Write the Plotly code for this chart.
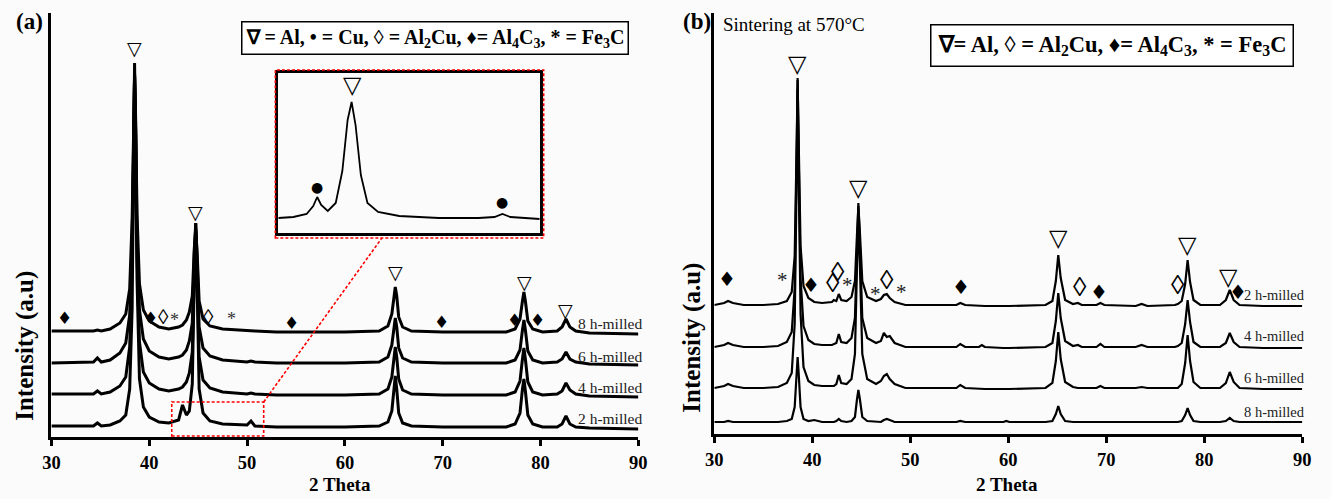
import plotly.graph_objects as go

W, H = 1331, 499

# ---------------- Panel (a): as-milled powders (2-theta grid and intensities above each baseline)
X_A = [30, 33, 34.3, 34.7, 35.1, 36, 37, 37.6, 38.0, 38.25, 38.4, 38.5, 38.6, 38.75, 39.0, 39.4,
       40, 41, 42, 43.0, 43.4, 43.8, 44.1, 44.4, 44.6, 44.75, 44.9, 45.1, 45.5, 46.2, 47.5, 50,
       50.4, 50.8, 53, 60, 63.5, 64.4, 64.8, 65.0, 65.15, 65.3, 65.5, 65.9, 66.8, 70, 76.5, 77.4,
       77.9, 78.15, 78.3, 78.45, 78.7, 79.2, 80.2, 81.7, 82.2, 82.6, 83.0, 83.6, 85, 90]
A_2H = [3, 3, 3, 6, 3, 4, 8, 14, 40, 120, 290, 366, 300, 150, 50, 22,
        12, 7, 6, 9, 24, 14, 18, 45, 150, 206, 140, 40, 16, 8, 5, 4,
        8, 3, 2, 2, 3, 7, 18, 42, 53, 40, 16, 6, 3, 2, 2, 5,
        16, 40, 50, 38, 14, 5, 2, 2, 5, 13, 5, 2, 1, 0]
A_4H = [3, 3, 3, 6, 3, 5, 11, 20, 50, 130, 260, 320, 270, 140, 55, 25,
        14, 8, 6, 8, 10, 15, 24, 45, 120, 166, 120, 40, 17, 9, 5, 3,
        4, 3, 2, 2, 3, 8, 20, 40, 50, 40, 18, 7, 3, 2, 2, 5,
        16, 38, 49, 38, 15, 5, 2, 3, 6, 14, 7, 3, 1, 0]
A_6H = [2, 3, 3, 7, 3, 5, 12, 22, 50, 125, 240, 290, 245, 130, 55, 26,
        14, 8, 6, 8, 10, 15, 24, 42, 110, 142, 105, 38, 17, 9, 5, 3,
        4, 3, 2, 2, 3, 8, 20, 38, 47, 38, 17, 7, 3, 2, 2, 5,
        15, 35, 45, 35, 14, 5, 2, 3, 6, 13, 6, 3, 1, 0]
A_8H = [3, 3, 3, 4, 3, 5, 11, 20, 45, 115, 215, 260, 220, 120, 50, 24,
        13, 7, 5, 7, 9, 14, 22, 38, 85, 105, 80, 33, 15, 8, 5, 3,
        3, 3, 2, 2, 3, 8, 20, 38, 47, 38, 17, 7, 3, 2, 2, 5,
        15, 33, 42, 33, 13, 5, 2, 3, 7, 15, 7, 3, 1, 0]
LABELS = ["2 h-milled", "4 h-milled", "6 h-milled", "8 h-milled"]
OFFSET_A = [17, 49, 81, 112]

# inset of panel (a): 2 h-milled, 42-52 degrees
X_IN = [41.93, 42.5, 43.0, 43.25, 43.4, 43.55, 43.8, 44.1, 44.35, 44.55, 44.7, 44.85, 45.05,
        45.3, 45.7, 46.5, 48, 49.5, 50.1, 50.4, 50.7, 51.81]
Y_IN = [15, 16, 19, 27, 36, 28, 22, 30, 62, 113, 131, 108, 58, 30, 21, 17, 15, 15, 16, 19, 16, 14]

# phase marks panel (a)
SYM_A_X = [38.5, 44.75, 65.2, 78.4, 82.6, 31.3, 40.1, 41.5, 42.6, 46.1, 48.4, 54.5, 69.9, 77.3, 79.7]
SYM_A_Y = [398, 234, 174, 164, 136, 128, 128, 129, 126, 129, 127, 123, 124, 126, 126]
SYM_A_T = ["▽", "▽", "▽", "▽", "▽", "♦", "♦", "◊", "*", "◊", "*", "♦", "♦", "♦", "♦"]

# ---------------- Panel (b): sintered at 570 C
X_B = [30, 31.0, 31.4, 31.9, 33, 35, 36.5, 37.4, 37.9, 38.2, 38.4, 38.5, 38.6, 38.8, 39.1, 39.6,
       40.2, 41, 42.0, 42.2, 42.45, 42.7, 42.95, 43.5, 44.0, 44.35, 44.55, 44.7, 44.85, 45.1, 45.6,
       46.5, 47.0, 47.3, 47.6, 47.9, 48.4, 49.5, 54.7, 55.1, 55.6, 57.0, 57.3, 57.6, 59.5, 59.8,
       60.1, 63.8, 64.5, 64.85, 65.1, 65.35, 65.8, 66.6, 67.1, 67.5, 69.0, 69.4, 69.8, 73.0, 73.6,
       74.2, 77.0, 77.3, 77.7, 78.05, 78.3, 78.55, 78.9, 79.6, 81.6, 82.2, 82.6, 83.0, 83.6, 86, 90]
B_2H = [1, 3, 5, 3, 1, 1, 2, 5, 14, 50, 160, 226, 170, 60, 20, 8,
        4, 3, 4, 6, 5, 12, 6, 5, 9, 25, 70, 100, 75, 25, 9,
        5, 7, 11, 12, 8, 4, 1, 1, 3, 1, 0, 0, 0, 0, 0,
        0, 1, 5, 25, 51, 28, 6, 2, 3, 1, 1, 3, 1, 0, 2,
        0, 1, 2, 5, 22, 46, 24, 6, 1, 1, 6, 16, 6, 1, 0, 0]
B_4H = [1, 3, 5, 3, 1, 1, 2, 6, 16, 60, 190, 270, 200, 70, 22, 8,
        4, 3, 3, 4, 5, 14, 6, 5, 10, 30, 100, 145, 105, 30, 10,
        5, 7, 15, 11, 12, 5, 1, 1, 4, 1, 1, 3, 1, 0, 0,
        0, 1, 5, 27, 55, 30, 7, 2, 3, 1, 1, 4, 1, 1, 3,
        1, 1, 2, 5, 24, 48, 26, 6, 1, 1, 5, 15, 6, 1, 0, 0]
B_6H = [1, 3, 5, 3, 1, 1, 2, 6, 16, 65, 210, 300, 220, 75, 22, 8,
        4, 3, 3, 3, 5, 14, 6, 5, 10, 35, 120, 175, 125, 35, 10,
        5, 8, 13, 15, 10, 5, 1, 1, 4, 1, 0, 0, 0, 0, 0,
        0, 1, 6, 28, 57, 30, 7, 2, 1, 1, 1, 3, 1, 1, 2,
        1, 1, 1, 5, 26, 54, 28, 7, 1, 1, 6, 17, 7, 1, 0, 0]
B_8H = [0, 0, 1, 0, 0, 0, 0, 1, 3, 15, 48, 65, 50, 15, 3, 1,
        2, 0, 0, 0, 1, 3, 1, 0, 1, 5, 22, 32, 23, 5, 1,
        0, 0, 2, 3, 2, 0, 0, 0, 1, 0, 0, 0, 0, 0, 1,
        0, 0, 1, 8, 16, 8, 1, 0, 0, 0, 0, 0, 0, 0, 0,
        0, 0, 0, 1, 7, 14, 7, 1, 0, 0, 1, 4, 1, 0, 0, 0]
OFFSET_B = [137, 95, 54, 21]

SYM_B_X = [38.5, 44.7, 65.1, 78.3, 82.5, 31.3, 37.0, 39.9, 42.1, 42.6, 43.6, 46.4, 47.6, 49.1,
           55.2, 67.3, 69.3, 77.3, 83.4]
SYM_B_Y = [379, 255, 205, 198, 166, 164, 163, 158, 160, 171, 158, 149, 163, 151, 156, 156, 151, 158, 151]
SYM_B_T = ["▽", "▽", "▽", "▽", "▽", "♦", "*", "♦", "◊", "◊", "*", "*", "◊", "*",
           "♦", "◊", "♦", "◊", "♦"]

SERIF = "Liberation Serif, Times New Roman, serif"

# ---------------- geometry (pixels -> paper)
def px(x):
    return x / W

def py(y):
    return 1 - y / H

AX_A = (43, 638)
AX_B = (715, 1311)
# (top pixel, bottom pixel) of the plot areas; y values are in pixel units above a reference line
Y_A = (13, 437)
Y_B = (13, 434)
YR_A = [9, 433]
YR_B = [9, 430]
IN_X = (273, 538)
IN_Y = (73, 233)

fig = go.Figure()

for vals, off in zip([A_2H, A_4H, A_6H, A_8H], OFFSET_A):
    fig.add_trace(go.Scatter(x=X_A, y=[v + off for v in vals], mode="lines",
                             line=dict(color="black", width=3.0), xaxis="x", yaxis="y",
                             showlegend=False, hoverinfo="skip"))
for vals, off in zip([B_2H, B_4H, B_6H, B_8H], OFFSET_B):
    fig.add_trace(go.Scatter(x=X_B, y=[v + off for v in vals], mode="lines",
                             line=dict(color="black", width=2.2), xaxis="x2", yaxis="y2",
                             showlegend=False, hoverinfo="skip"))
fig.add_trace(go.Scatter(x=X_IN, y=Y_IN, mode="lines", line=dict(color="black", width=1.8),
                         xaxis="x3", yaxis="y3", showlegend=False, hoverinfo="skip"))

xcommon = dict(range=[30, 90], showline=True, linecolor="black", linewidth=3, ticks="outside",
               ticklen=6, tickwidth=2.5, tickcolor="black", tickvals=[30, 40, 50, 60, 70, 80, 90],
               tickfont=dict(family=SERIF, size=18.5, color="black", weight="bold"),
               showgrid=False, zeroline=False, ticklabelstandoff=1)
ycommon = dict(showline=True, linecolor="black", linewidth=3, showticklabels=False, ticks="",
               showgrid=False, zeroline=False)

fig.update_layout(
    width=W, height=H, autosize=False,
    margin=dict(l=0, r=0, t=0, b=0),
    paper_bgcolor="#fbfbfb", plot_bgcolor="rgba(0,0,0,0)",
    xaxis=dict(domain=[px(AX_A[0]), px(AX_A[1])], anchor="y", **xcommon),
    yaxis=dict(domain=[py(Y_A[1]), py(Y_A[0])], range=YR_A, anchor="x", **ycommon),
    xaxis2=dict(domain=[px(AX_B[0]), px(AX_B[1])], anchor="y2", **xcommon),
    yaxis2=dict(domain=[py(Y_B[1]), py(Y_B[0])], range=YR_B, anchor="x2", **ycommon),
    xaxis3=dict(domain=[px(IN_X[0]), px(IN_X[1])], anchor="y3", range=[X_IN[0], X_IN[-1]],
                showline=True, mirror=True, linecolor="black", linewidth=2.5, showticklabels=False,
                ticks="", showgrid=False, zeroline=False),
    yaxis3=dict(domain=[py(IN_Y[1]), py(IN_Y[0])], anchor="x3", range=[0, 160],
                showline=True, mirror=True, linecolor="black", linewidth=2.5, showticklabels=False,
                ticks="", showgrid=False, zeroline=False),
)

ann = []

def add(**kw):
    kw.setdefault("showarrow", False)
    kw.setdefault("xanchor", "center")
    kw.setdefault("yanchor", "middle")
    ann.append(kw)

# phase symbols
a_sizes = {"▽": 19, "♦": 17, "◊": 21, "*": 18}
for x, y, t in zip(SYM_A_X, SYM_A_Y, SYM_A_T):
    add(x=x, y=y, xref="x", yref="y", text=t,
        font=dict(family="DejaVu Sans" if t in "▽♦" else SERIF, size=a_sizes[t],
                  color="#333333" if t == "*" else "black"))
b_sizes = {"▽": 24, "♦": 20, "◊": 27, "*": 21}
for x, y, t in zip(SYM_B_X, SYM_B_Y, SYM_B_T):
    add(x=x, y=y, xref="x2", yref="y2", text=t,
        font=dict(family="DejaVu Sans" if t in "▽♦" else SERIF, size=b_sizes[t],
                  color="#222222" if t == "*" else "black"))
# inset symbols
add(x=44.72, y=148, xref="x3", yref="y3", text="▽", font=dict(family="DejaVu Sans", size=24, color="black"))
add(x=43.4, y=46, xref="x3", yref="y3", text="●", font=dict(family="DejaVu Sans", size=14, color="black"))
add(x=50.4, y=31, xref="x3", yref="y3", text="●", font=dict(family="DejaVu Sans", size=14, color="black"))

# sample labels
for lab, y in zip(LABELS, [418, 387, 356, 323]):
    add(x=px(644), y=py(y), xref="paper", yref="paper", text=lab, xanchor="right",
        font=dict(family=SERIF, size=15.5, color="#222222"))
for lab, y in zip(LABELS, [295, 336, 378, 412]):
    add(x=px(1316), y=py(y), xref="paper", yref="paper", text=lab, xanchor="right",
        font=dict(family=SERIF, size=14.5, color="#222222"))

# legends (phase keys)
add(x=px(431.5), y=py(37.5), xref="paper", yref="paper",
    text="<b>∇ = Al, • = Cu, ◊ = Al<sub>2</sub>Cu, ♦= Al<sub>4</sub>C<sub>3</sub>, * = Fe<sub>3</sub>C</b>",
    font=dict(family=SERIF, size=20, color="black"), bordercolor="black",
    borderwidth=1.5, borderpad=3, bgcolor="white")
add(x=px(1118.5), y=py(46), xref="paper", yref="paper",
    text="<b>∇= Al, ◊ = Al<sub>2</sub>Cu, ♦= Al<sub>4</sub>C<sub>3</sub>, * = Fe<sub>3</sub>C</b>",
    font=dict(family=SERIF, size=22.5, color="black"), bordercolor="black",
    borderwidth=1.5, borderpad=6, bgcolor="white")

# panel letters and texts
add(x=px(21), y=py(21), xref="paper", yref="paper", text="<b>(a)</b>",
    font=dict(family=SERIF, size=23, color="black"))
add(x=px(697), y=py(21), xref="paper", yref="paper", text="<b>(b)</b>",
    font=dict(family=SERIF, size=23, color="black"))
add(x=px(722), y=py(24), xref="paper", yref="paper", text="Sintering at 570°C", xanchor="left",
    font=dict(family=SERIF, size=19, color="black"))

# axis titles
for cx in [336, 1012]:
    add(x=px(cx), y=py(484), xref="paper", yref="paper", text="<b>2 Theta</b>",
        font=dict(family=SERIF, size=19, color="black"))
for cx, cy in [(16, 346), (692, 338)]:
    add(x=px(cx), y=py(cy), xref="paper", yref="paper", text="<b>Intensity (a.u)</b>",
        textangle=-90, font=dict(family=SERIF, size=25, color="black"))
fig.update_layout(annotations=ann)

# red dashed zoom box and connector
RX0, RX1, RY0, RY1 = 42.3, 51.7, 10, 44
fig.add_shape(type="rect", xref="x", yref="y", x0=RX0, x1=RX1, y0=RY0, y1=RY1,
              line=dict(color="red", width=1.6, dash="3px,2px"))
fig.add_shape(type="rect", xref="paper", yref="paper", x0=px(270), x1=px(542), y0=py(238), y1=py(70),
              line=dict(color="red", width=1.6, dash="3px,2px"))
dx0, dx1 = px(AX_A[0]), px(AX_A[1])
dy0, dy1 = py(Y_A[1]), py(Y_A[0])
cx_paper = dx0 + (RX1 - 30) / 60 * (dx1 - dx0)
cy_paper = dy0 + (RY1 - YR_A[0]) / (YR_A[1] - YR_A[0]) * (dy1 - dy0)
fig.add_shape(type="line", xref="paper", yref="paper", x0=cx_paper, y0=cy_paper, x1=px(378), y1=py(238),
              line=dict(color="red", width=1.6, dash="3px,2px"))

fig.write_html("out.html")
